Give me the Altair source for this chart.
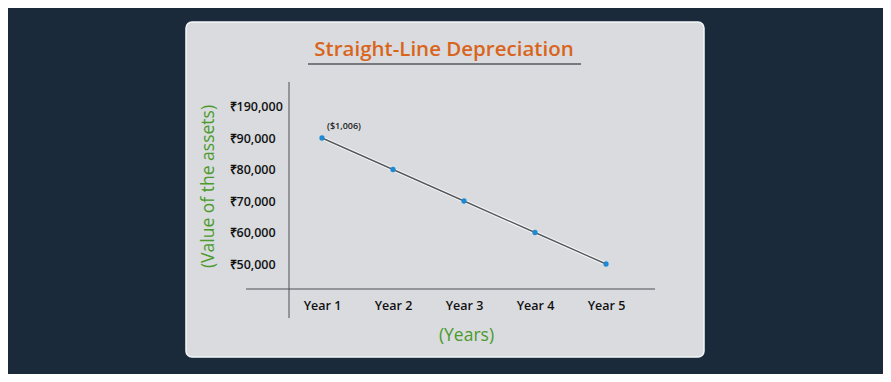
import altair as alt
import pandas as pd

years = ["Year 1", "Year 2", "Year 3", "Year 4", "Year 5"]
values = [90000, 80000, 70000, 60000, 50000]
y_ticks = [50000, 60000, 70000, 80000, 90000, 100000]
y_tick_labels = ["₹50,000", "₹60,000", "₹70,000", "₹80,000", "₹90,000", "₹190,000"]
point_note = "($1,006)"
title_text = "Straight-Line Depreciation"
x_title = "(Years)"
y_title = "(Value of the assets)"

df = pd.DataFrame({"year": years, "value": values})

label_expr = ""
for v, l in zip(y_ticks, y_tick_labels):
    label_expr += f"datum.value == {v} ? '{l}' : "
label_expr += "''"

W, H = 366, 207
FONT = "Open Sans"
GREEN = "#4a9a2c"
ORANGE = "#d9651c"

one = alt.Data(values=[{}])

panel = alt.Chart(one).mark_rect(
    fill="#d9dbde", stroke="#f4f7fa", strokeWidth=1.5, cornerRadius=6
).encode(x=alt.value(-103), x2=alt.value(415), y=alt.value(-60), y2=alt.value(275))

title = alt.Chart(one).mark_text(
    text=title_text, font=FONT, fontSize=20.5, fontWeight=600, color=ORANGE,
    align="center", baseline="middle"
).encode(x=alt.value(155), y=alt.value(-32))

underline = alt.Chart(one).mark_rule(color="#555a60", strokeWidth=1.5).encode(
    x=alt.value(19), x2=alt.value(292), y=alt.value(-18)
)

yaxis_line = alt.Chart(one).mark_rule(color="#4a4f55", strokeWidth=1).encode(
    x=alt.value(0), y=alt.value(0), y2=alt.value(236)
)
xaxis_line = alt.Chart(one).mark_rule(color="#4a4f55", strokeWidth=1).encode(
    x=alt.value(-43), x2=alt.value(W), y=alt.value(H)
)

xenc = alt.X(
    "year:O", sort=years,
    scale=alt.Scale(type="point", range=[33, 317], padding=0),
    axis=alt.Axis(
        title=x_title, labelAngle=0, domain=False, ticks=False, grid=False, zindex=2,
        labelFont=FONT, labelFontSize=12.5, labelColor="#111111", labelFontWeight=600,
        labelPadding=10,
        titleFont=FONT, titleFontSize=17.5, titleFontWeight=500, titleColor=GREEN,
        titleX=177, titleY=46, titleBaseline="middle", titleAlign="center",
    ),
)
yenc = alt.Y(
    "value:Q",
    scale=alt.Scale(domain=[50000, 100000], range=[182, 24.5], nice=False, zero=False),
    axis=alt.Axis(
        values=y_ticks, labelExpr=label_expr, title=y_title, zindex=2,
        domain=False, ticks=False, grid=False,
        labelFont=FONT, labelFontSize=12.5, labelColor="#111111", labelFontWeight=600,
        labelAlign="left", labelPadding=60,
        titleFont=FONT, titleFontSize=17.5, titleFontWeight=500, titleColor=GREEN,
        titleX=-81, titleY=104, titleBaseline="middle", titleAlign="center", titleAngle=-90,
    ),
)

base = alt.Chart(df)
halo = base.mark_line(color="#ffffff", strokeWidth=3.5, opacity=0.9).encode(x=xenc, y=yenc)
line = base.mark_line(color="#55595e", strokeWidth=1.4).encode(x=xenc, y=yenc)
pts = base.mark_point(filled=True, color="#1e8ad4", size=28, opacity=1).encode(x=xenc, y=yenc)
note = base.transform_filter(alt.datum.year == years[0]).mark_text(
    text=point_note, font=FONT, fontSize=9, fontWeight=600, color="#222222", dx=22, dy=-12
).encode(x=xenc, y=yenc)

chart = alt.layer(
    panel, title, underline, yaxis_line, xaxis_line, halo, line, pts, note
).properties(
    width=W, height=H,
    autosize=alt.AutoSizeParams(type="none"),
    padding={"left": 281, "top": 74, "right": 228, "bottom": 85},
    background="#1b2a3a",
).configure_view(stroke=None)

chart.save("out.html", embed_options={"renderer": "svg", "actions": False})
